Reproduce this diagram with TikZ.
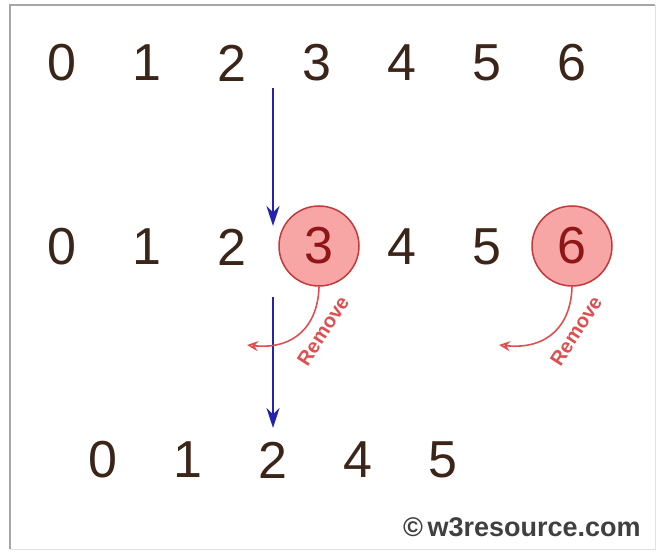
\documentclass[tikz,border=0pt]{standalone}
\usepackage{fontspec}
\setmainfont{Liberation Sans}
\usepackage{tikz}
\usetikzlibrary{arrows.meta}

\definecolor{digitbrown}{HTML}{3B2418}
\definecolor{hitfill}{HTML}{F7A5A5}
\definecolor{hitline}{HTML}{C43A3A}
\definecolor{hittext}{HTML}{8E1616}
\definecolor{removered}{HTML}{DE4F4F}
\definecolor{pointblue}{HTML}{2323B0}

\tikzset{
  digit/.style={text=digitbrown, font=\fontsize{52}{56}\selectfont, inner sep=0pt},
  hit/.style={circle, draw=hitline, fill=hitfill, line width=1.5, minimum size=80,
    inner sep=0pt, text=hittext, font=\fontsize{52}{56}\selectfont},
  pointer/.style={draw=pointblue, line width=2.5, -{Stealth[length=20, width=13]}},
  removearrow/.style={draw=removered, line width=1.6, -{Stealth[length=11, width=10, open]}},
  removetext/.style={text=removered, font=\bfseries\fontsize{20}{21}\selectfont, inner sep=0pt}
}

\begin{document}
\begin{tikzpicture}[x=1pt, y=-1pt]
		\useasboundingbox (0,0) rectangle (658,553);
		% frame
		\draw[black!12, line width=1] (655,5) -- (655,549) -- (10,549);
		\draw[black!35, line width=2.2] (10,549) -- (10,5) -- (655,5);
		% first row
		\foreach \d in {0,...,6}
			\node[digit] (t\d) at (62+85*\d,63) {\d};
		% second row, 3 and 6 marked
		\foreach \d in {0,1,2,4,5}
			\node[digit] (m\d) at (62+85*\d,247) {\d};
		\node[hit] (m3) at (319,246) {3};
		\node[hit] (m6) at (572,246) {6};
		% third row
		\foreach \d/\i in {0/0,1/1,2/2,4/3,5/4}
			\node[digit] (b\d) at (103+85*\i,460) {\d};
		% blue pointers
		\coordinate (p1) at (273,88);
		\coordinate (p2) at (273,226);
		\coordinate (p3) at (273,297);
		\coordinate (p4) at (273,428);
		\draw[pointer] (p1) -- (p2);
		\draw[pointer] (p3) -- (p4);
		% remove arrows
		\coordinate (r3) at (247,345);
		\coordinate (r6) at (499,345);
		\draw[removearrow] (m3.south) .. controls (318,325) and (295,350) .. (r3);
		\draw[removearrow] (m6.south) .. controls (571,325) and (548,350) .. (r6);
		\node[removetext, rotate=57] (x3) at (323,331) {Remove};
		\node[removetext, rotate=57] (x6) at (576,331) {Remove};
		% credit
		\node[anchor=west, inner sep=0pt, text=black!75, font=\bfseries\fontsize{27}{28}\selectfont] (cr) at (403,527) {\textcopyright\,w3resource.com};
	\end{tikzpicture}
\end{document}
